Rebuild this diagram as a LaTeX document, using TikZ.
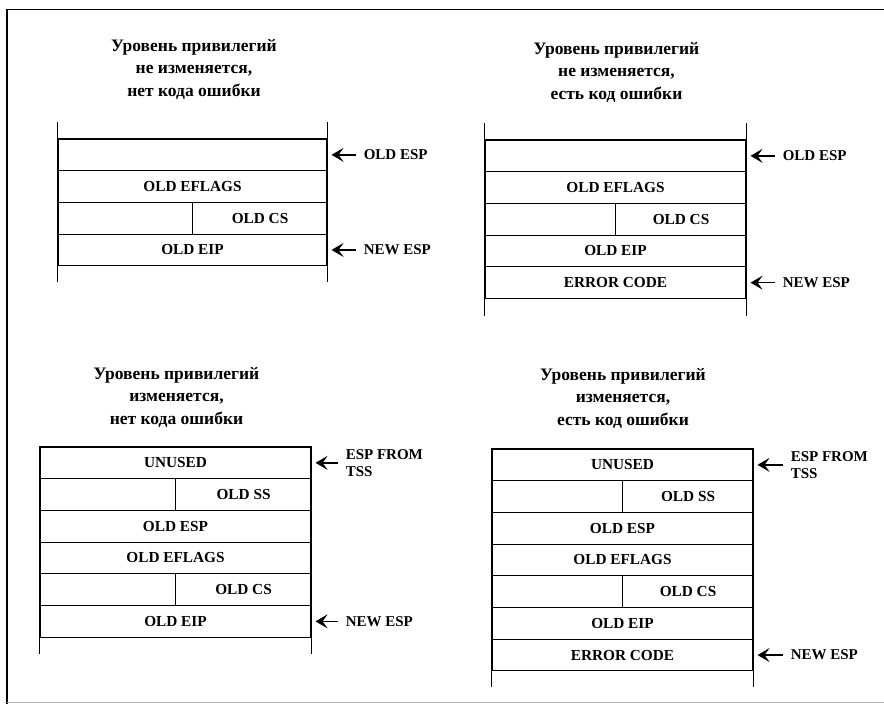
\documentclass[tikz,border=0pt]{standalone}
\usepackage{fontspec}
\setmainfont{Liberation Serif}
\usetikzlibrary{arrows.meta,positioning,calc}

\tikzset{
  cell/.style={draw, line width=1.1pt, minimum height=31.7pt, inner sep=0pt,
    font=\fontsize{15.3}{17}\selectfont\bfseries},
  halftext/.style={inner sep=0pt, font=\fontsize{15.3}{17}\selectfont\bfseries},
  title/.style={align=center, inner sep=0pt, anchor=north,
    font=\fontsize{17.5}{22.5}\selectfont\bfseries},
  lbl/.style={align=left, inner sep=0pt, font=\fontsize{15}{17}\selectfont\bfseries},
  ptr/.style={-{Stealth[length=12pt,width=14pt,inset=5pt]}, line width=1.5pt,
    shorten <=8pt, shorten >=4pt},
  wall/.style={line width=1.1pt},
}

\begin{document}
\begin{tikzpicture}[x=1pt, y=-1pt]
\useasboundingbox (0,0) rectangle (884,704);
% frame
\draw[line width=1.5pt] (884,9.5) -- (7,9.5) -- (7,704);
\draw[black!30, line width=0.8pt] (7,702) -- (884,702);

% --- top left: no change, no error code
\node[title] (ta) at (194,39) {Уровень привилегий\\не изменяется,\\нет кода ошибки};
\foreach \t [count=\n] in {{}, OLD EFLAGS, {}, OLD EIP}
  \node[cell, minimum width=269pt] (a\n) at (192.5,{139+(\n-0.5)*31.7}) {\t};
\draw[wall] (a1.north west) -- ++(0,-16) (a1.north east) -- ++(0,-16);
\draw[wall] (a4.south west) -- ++(0,16) (a4.south east) -- ++(0,16);
\draw[wall] (a3.north) -- (a3.south);
\node[halftext] (a3r) at ($(a3.center)!0.5!(a3.east)$) {OLD CS};
\node[lbl, right=36pt of a1.east] (aold) {OLD ESP};
\node[lbl, right=36pt of a4.east] (anew) {NEW ESP};
\draw[ptr] (aold.west) -- (a1.east);
\draw[ptr] (anew.west) -- (a4.east);

% --- top right: no change, error code
\node[title] (tb) at (616.5,42) {Уровень привилегий\\не изменяется,\\есть код ошибки};
\foreach \t [count=\n] in {{}, OLD EFLAGS, {}, OLD EIP, ERROR CODE}
  \node[cell, minimum width=261pt] (b\n) at (615.5,{140+(\n-0.5)*31.7}) {\t};
\draw[wall] (b1.north west) -- ++(0,-16) (b1.north east) -- ++(0,-16);
\draw[wall] (b5.south west) -- ++(0,17) (b5.south east) -- ++(0,17);
\draw[wall] (b3.north) -- (b3.south);
\node[halftext] (b3r) at ($(b3.center)!0.5!(b3.east)$) {OLD CS};
\node[lbl, right=36pt of b1.east] (bold) {OLD ESP};
\node[lbl, right=36pt of b5.east] (bnew) {NEW ESP};
\draw[ptr] (bold.west) -- (b1.east);
\draw[ptr] (bnew.west) -- (b5.east);

% --- bottom left: change, no error code
\node[title] (tc) at (176.5,367) {Уровень привилегий\\изменяется,\\нет кода ошибки};
\foreach \t [count=\n] in {UNUSED, {}, OLD ESP, OLD EFLAGS, {}, OLD EIP}
  \node[cell, minimum width=271pt] (c\n) at (175.5,{447+(\n-0.5)*31.7}) {\t};
\draw[wall] (c6.south west) -- ++(0,16) (c6.south east) -- ++(0,16);
\draw[wall] (c2.north) -- (c2.south) (c5.north) -- (c5.south);
\node[halftext] (c2r) at ($(c2.center)!0.5!(c2.east)$) {OLD SS};
\node[halftext] (c5r) at ($(c5.center)!0.5!(c5.east)$) {OLD CS};
\node[lbl, right=34pt of c1.east] (ctss) {ESP FROM\\TSS};
\node[lbl, right=34pt of c6.east] (cnew) {NEW ESP};
\draw[ptr] (ctss.west) -- (c1.east);
\draw[ptr] (cnew.west) -- (c6.east);

% --- bottom right: change, error code
\node[title] (td) at (623,368) {Уровень привилегий\\изменяется,\\есть код ошибки};
\foreach \t [count=\n] in {UNUSED, {}, OLD ESP, OLD EFLAGS, {}, OLD EIP, ERROR CODE}
  \node[cell, minimum width=261pt] (d\n) at (622.5,{449+(\n-0.5)*31.7}) {\t};
\draw[wall] (d7.south west) -- ++(0,16) (d7.south east) -- ++(0,16);
\draw[wall] (d2.north) -- (d2.south) (d5.north) -- (d5.south);
\node[halftext] (d2r) at ($(d2.center)!0.5!(d2.east)$) {OLD SS};
\node[halftext] (d5r) at ($(d5.center)!0.5!(d5.east)$) {OLD CS};
\node[lbl, right=37pt of d1.east] (dtss) {ESP FROM\\TSS};
\node[lbl, right=37pt of d7.east] (dnew) {NEW ESP};
\draw[ptr] (dtss.west) -- (d1.east);
\draw[ptr] (dnew.west) -- (d7.east);
\end{tikzpicture}
\end{document}
